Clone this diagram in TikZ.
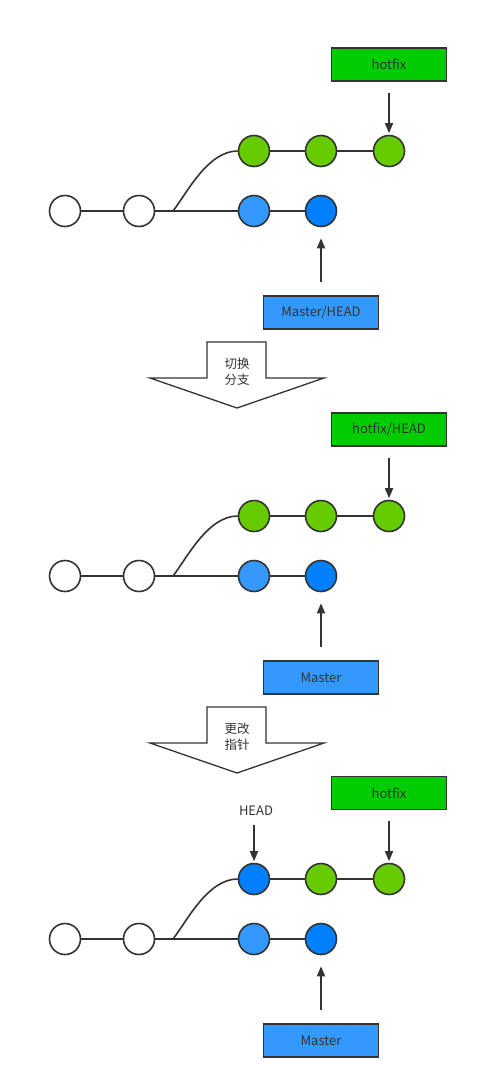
\documentclass[tikz,border=0pt]{standalone}
\usepackage{fontspec}
\setmainfont{Noto Sans CJK SC}
\usetikzlibrary{arrows.meta}
\definecolor{edge}{HTML}{333333}
\definecolor{commitgreen}{HTML}{66CC00}
\definecolor{commitlight}{HTML}{3399FF}
\definecolor{commitdark}{HTML}{0080FF}
\definecolor{boxgreen}{HTML}{00CC00}
\definecolor{boxblue}{HTML}{3399FF}
\begin{document}
\begin{tikzpicture}[x=1pt,y=-1pt,
  commit/.style={circle,draw=edge,line width=1.6pt,minimum size=31pt,inner sep=0pt},
  plain/.style={commit,fill=white},
  green/.style={commit,fill=commitgreen},
  light/.style={commit,fill=commitlight},
  dark/.style={commit,fill=commitdark},
  link/.style={draw=edge,line width=1.6pt},
  refbox/.style={draw=edge,line width=1.5pt,minimum width=115pt,minimum height=33pt,
    inner sep=0pt,text=edge,font=\fontsize{13}{15}\selectfont},
  greenbox/.style={refbox,fill=boxgreen},
  bluebox/.style={refbox,fill=boxblue},
  pointer/.style={draw=edge,line width=1.6pt,-{Triangle[width=8pt,length=10pt]}},
  bigarrow/.style={draw=edge,line width=1.3pt,fill=white},
  steplabel/.style={align=center,text=edge,font=\fontsize{12.5}{16}\selectfont,inner sep=0pt}
]
\fill[white] (0,0) rectangle (478,1090);
\useasboundingbox (0,0) rectangle (478,1090);

% three stages of the same history, one below the other
\foreach \s/\dy in {a/0,b/365,c/728}{
  \begin{scope}[yshift=-\dy pt]
    \node[plain] (\s1) at (65,211) {};
    \node[plain] (\s2) at (139,211) {};
    \node[light] (\s3) at (254,211) {};
    \node[dark]  (\s4) at (321,211) {};
    \node[green] (\s6) at (321,151) {};
    \node[green] (\s7) at (389,151) {};
    \coordinate (\s f) at (173,211);
  \end{scope}
}
\node[green] (a5) at (254,151) {};
\node[green] (b5) at (254,516) {};
\node[dark]  (c5) at (254,879) {};

\foreach \s in {a,b,c}{
  \draw[link] (\s1) -- (\s2);
  \draw[link] (\s2) -- (\s3);
  \draw[link] (\s3) -- (\s4);
  \draw[link] (\s5) -- (\s6);
  \draw[link] (\s6) -- (\s7);
  \draw[link] (\s f) .. controls ([shift={(14,-18)}]\s f) and ([shift={(-30,0)}]\s5.west) .. (\s5.west);
}

% branch labels
\node[greenbox] (hfa) at (389,64.5) {hotfix};
\node[bluebox]  (ma)  at (321,312.5) {Master/HEAD};
\node[greenbox] (hfb) at (389,429.5) {hotfix/HEAD};
\node[bluebox]  (mb)  at (321,677.5) {Master};
\node[greenbox] (hfc) at (389,793) {hotfix};
\node[bluebox]  (mc)  at (321,1040.5) {Master};
\node[text=edge,font=\fontsize{13}{15}\selectfont,inner sep=0pt] (head) at (256,811) {HEAD};

\draw[pointer,shorten <=11pt,shorten >=1.5pt] (hfa.south) -- (a7.north);
\draw[pointer,shorten <=13pt,shorten >=11pt] (ma.north) -- (a4.south);
\draw[pointer,shorten <=11pt,shorten >=1.5pt] (hfb.south) -- (b7.north);
\draw[pointer,shorten <=13pt,shorten >=11pt] (mb.north) -- (b4.south);
\draw[pointer,shorten <=11pt,shorten >=1.5pt] (hfc.south) -- (c7.north);
\draw[pointer,shorten <=13pt,shorten >=11pt] (mc.north) -- (c4.south);
\draw[pointer,shorten <=9pt,shorten >=1.5pt] ([xshift=-2pt]head.south) -- (c5.north);

% transition arrows between the stages
\foreach \dy/\ta/\tb/\nm in {0/切换/分支/sw, 365/更改/指针/mv}{
  \begin{scope}[yshift=-\dy pt]
    \draw[bigarrow] (207,342) -- (266,342) -- (266,378) -- (324,378) -- (237,408)
      -- (150,378) -- (207,378) -- cycle;
    \node[steplabel] (\nm) at (237,372) {\ta\\\tb};
  \end{scope}
}
\end{tikzpicture}
\end{document}
